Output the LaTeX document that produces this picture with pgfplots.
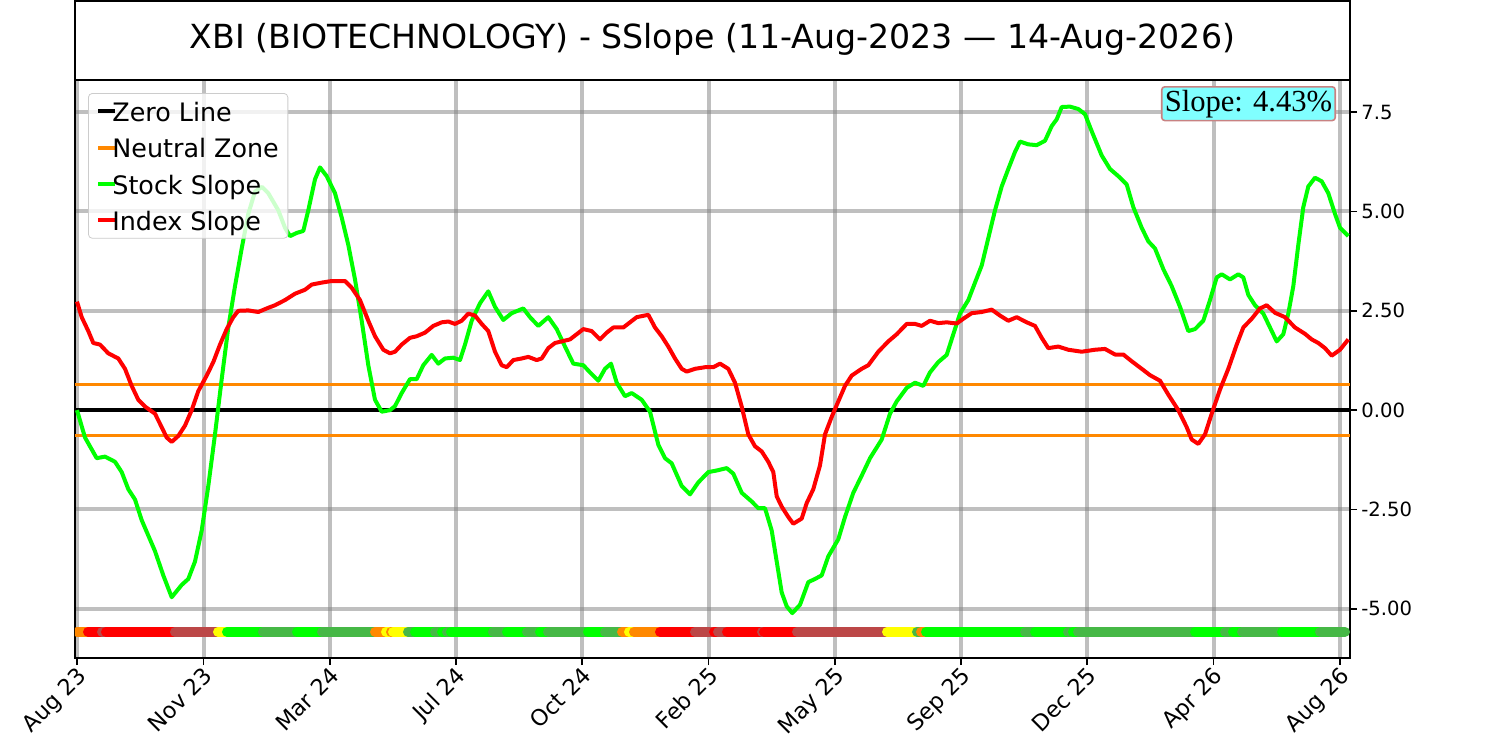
\documentclass[border=0pt]{standalone}
\usepackage{fontspec}
\setmainfont{DejaVu Sans}
\newfontfamily\timesfont{Liberation Serif}
\usepackage{pgfplots}
\pgfplotsset{compat=1.18}
\definecolor{lime}{RGB}{0,255,0}
\definecolor{mgreen}{RGB}{70,184,70}
\definecolor{brn}{RGB}{188,71,71}
\definecolor{dorange}{RGB}{255,136,0}
\definecolor{yel}{RGB}{255,255,0}
\definecolor{rd}{RGB}{255,0,0}
\definecolor{cyanbox}{RGB}{128,255,255}
\definecolor{brownbox}{RGB}{200,130,130}
\newcommand{\seg}[3]{\addplot[forget plot, draw=#1, line width=5pt, line cap=round] coordinates {(#2,-5.58) (#3,-5.58)};}
\begin{document}
\begin{tikzpicture}
\useasboundingbox (0,0) rectangle (750pt,370.5pt);
\begin{axis}[
  name=ax, at={(37.5pt,41.5pt)}, anchor=south west,
  scale only axis, width=637.5pt, height=289pt,
  xmin=75, xmax=1350, ymin=-6.24, ymax=8.31,
  xtick={77,203.5,330,456,582,708.5,835,961,1087,1213.5,1340},
  xticklabels={Aug 23,Nov 23,Mar 24,Jul 24,Oct 24,Feb 25,May 25,Sep 25,Dec 25,Apr 26,Aug 26},
  ytick={-5,-2.5,0,2.5,5,7.5},
  yticklabels={-5.00,-2.50,0.00,2.50,5.00,7.5},
  xtick pos=bottom, ytick pos=right, yticklabel pos=right,
  tick align=outside, major tick length=3.5pt,
  tick style={black, line width=0.8pt},
  grid=major, major grid style={draw=black!50, opacity=0.5, line width=2pt},
  axis line style={line width=0.8pt},
  yticklabel style={font=\fontsize{9.8}{11}\selectfont, inner sep=2pt},
  xticklabel style={font=\fontsize{11.2}{12}\selectfont, rotate=45, anchor=north east, inner sep=0.5pt, yshift=1pt},
  legend cell align=left,
  legend style={at={(0,1)}, anchor=north west, xshift=6.5pt, yshift=-6.5pt,
    draw=black!20, rounded corners=2pt, fill=white, fill opacity=0.8, text opacity=1, draw opacity=1,
    font=\fontsize{12.7}{14}\selectfont, row sep=4.15pt, inner xsep=4pt, inner ysep=2pt,
    nodes={inner xsep=0.5pt, inner ysep=2pt, text height=10pt, text depth=0pt},
    /tikz/every even column/.append style={column sep=3pt},
    /tikz/every odd column/.append style={column sep=-3pt}},
  legend image code/.code={\draw[#1, line width=2pt] (0pt,0pt) -- (8.5pt,0pt);},
]
\addplot[black, line width=1.75pt] coordinates {(75,0) (1350,0)};
\addlegendentry{Zero Line}
\addplot[dorange, line width=1.75pt] coordinates {(75,0.64) (1350,0.64)};
\addlegendentry{Neutral Zone}
\addplot[dorange, line width=1.75pt, forget plot] coordinates {(75,-0.64) (1350,-0.64)};
\addplot[lime, line width=2pt, line join=round] coordinates {
(77,0.0)(85,-0.69)(96.7,-1.21)(105,-1.17)(115,-1.30)(121.7,-1.56)(128.3,-1.99)(135,-2.25)(141.7,-2.77)(155,-3.55)(163.3,-4.16)(171.7,-4.71)(181.7,-4.40)(188.3,-4.25)(195,-3.81)(201.7,-3.03)(208.3,-1.91)(215,-0.61)(221.7,0.78)(228.3,2.08)(235,3.12)(241.7,4.07)(248.3,4.94)(255,5.50)(262,5.62)(268.3,5.46)(278.3,5.03)(285,4.59)(290,4.38)(296.7,4.46)(303.3,4.51)(308.3,5.03)(315,5.81)(320,6.11)(326.7,5.89)(335,5.46)(341.7,4.85)(348.3,4.16)(355,3.29)(361.7,2.25)(368.3,1.13)(375,0.26)(381.7,-0.04)(390,0.0)(395,0.1)(401.7,0.43)(410,0.78)(416.7,0.78)(423.3,1.13)(431.7,1.39)(438.3,1.17)(445,1.30)(453.3,1.32)(460,1.26)(465,1.65)(471.7,2.25)(480,2.69)(488.3,2.99)(495,2.60)(503.3,2.27)(511.7,2.44)(523.3,2.56)(530,2.34)(538.3,2.12)(548.3,2.34)(556.7,2.04)(565,1.60)(573.3,1.17)(583.3,1.13)(590,0.95)(598.3,0.74)(605,1.04)(611,1.17)(616.7,0.69)(625,0.35)(631.7,0.43)(641.7,0.26)(650,-0.04)(658.3,-0.87)(665,-1.21)(671.7,-1.34)(681.7,-1.91)(690,-2.12)(698.3,-1.82)(708.3,-1.56)(716.7,-1.52)(726.7,-1.46)(733.3,-1.60)(741.7,-2.08)(751.7,-2.30)(758.3,-2.47)(765,-2.47)(771.7,-3.03)(776.7,-3.81)(781.7,-4.59)(786.7,-4.94)(792.3,-5.11)(800,-4.90)(808.3,-4.33)(815,-4.25)(821.7,-4.16)(828.3,-3.68)(838.3,-3.25)(845,-2.69)(853.3,-2.08)(861.7,-1.65)(870,-1.21)(881.7,-0.74)(890,-0.09)(896.7,0.22)(906.7,0.56)(915,0.69)(923.3,0.61)(930,0.95)(938.3,1.21)(946.7,1.39)(953.3,1.91)(960,2.43)(968.3,2.77)(975,3.21)(981.7,3.64)(988.3,4.33)(995,5.03)(1001.7,5.63)(1008.3,6.07)(1015,6.50)(1020,6.76)(1028.3,6.69)(1036.7,6.67)(1045,6.78)(1051.7,7.15)(1056.7,7.32)(1061.7,7.63)(1070,7.64)(1078.3,7.58)(1085,7.45)(1091.7,7.02)(1101.7,6.41)(1110,6.07)(1118.3,5.89)(1126.7,5.68)(1133.3,5.11)(1141.7,4.59)(1148.3,4.25)(1155,4.07)(1163.3,3.55)(1171.7,3.12)(1180,2.60)(1188.3,1.99)(1195,2.04)(1203.3,2.25)(1210,2.77)(1216.7,3.34)(1221.7,3.42)(1230,3.29)(1238.3,3.42)(1243.3,3.34)(1248.3,2.90)(1255,2.64)(1263.3,2.43)(1270,2.08)(1276.7,1.73)(1283.3,1.91)(1288.3,2.43)(1293.3,3.12)(1298.3,4.16)(1303.3,5.11)(1308.3,5.63)(1315,5.85)(1321.7,5.76)(1328.3,5.46)(1335,4.94)(1340,4.59)(1348.3,4.38)};
\addlegendentry{Stock Slope}
\addplot[rd, line width=2pt, line join=round] coordinates {
(77,2.73)(81.7,2.34)(88.3,1.99)(93.3,1.69)(100,1.65)(108.3,1.43)(118.3,1.30)(125,1.04)(131.7,0.61)(138.3,0.26)(145,0.09)(155,-0.09)(161.7,-0.43)(166.7,-0.69)(171.7,-0.80)(178.3,-0.65)(185,-0.39)(191.7,0.0)(198.3,0.48)(206.7,0.87)(213.3,1.21)(220,1.65)(226.7,2.04)(233.3,2.34)(238.3,2.50)(248.3,2.51)(258.3,2.47)(266.7,2.56)(275,2.64)(285,2.77)(295,2.93)(305,3.03)(311.7,3.16)(321.7,3.21)(331.7,3.25)(345,3.25)(351.7,3.08)(360,2.77)(368.3,2.25)(375,1.86)(383.3,1.52)(390,1.43)(395,1.47)(401.7,1.65)(410,1.82)(416.7,1.86)(425,1.95)(433.3,2.12)(441.7,2.21)(448.3,2.23)(455,2.17)(461.7,2.25)(468.3,2.43)(475,2.38)(481.7,2.17)(488.3,1.99)(495,1.47)(501.7,1.13)(506.7,1.08)(513.3,1.26)(521.7,1.30)(528.3,1.34)(536.7,1.26)(541.7,1.30)(548.3,1.56)(555,1.69)(561.7,1.73)(570,1.78)(576.7,1.91)(583.3,2.04)(591.7,1.99)(600,1.78)(606.7,1.95)(613.3,2.08)(623.3,2.08)(630,2.21)(636.7,2.34)(648.3,2.40)(655,2.08)(661.7,1.86)(668.3,1.60)(675,1.30)(681.7,1.04)(686.7,0.97)(695,1.04)(705,1.08)(713.3,1.08)(720,1.17)(728.3,1.04)(735,0.69)(741.7,0.09)(748.3,-0.61)(755,-0.91)(761.7,-1.04)(768.3,-1.30)(773.3,-1.56)(776.7,-2.17)(781.7,-2.43)(788.3,-2.69)(793.3,-2.86)(801.7,-2.73)(806.7,-2.34)(813.3,-1.99)(820,-1.39)(825,-0.61)(831.7,-0.17)(838.3,0.22)(845,0.61)(851.7,0.87)(861.7,1.04)(868.3,1.13)(878.3,1.47)(888.3,1.73)(896.7,1.91)(906.7,2.17)(915,2.17)(921.7,2.12)(930,2.25)(938.3,2.19)(946.7,2.21)(956.7,2.18)(963.3,2.30)(971.7,2.44)(981.7,2.47)(991.7,2.53)(1000,2.38)(1008.3,2.25)(1016.7,2.34)(1026.7,2.21)(1035,2.12)(1041.7,1.82)(1048.3,1.56)(1058.3,1.60)(1068.3,1.52)(1081.7,1.47)(1095,1.52)(1105,1.54)(1115,1.40)(1123.3,1.40)(1131.7,1.23)(1141.7,1.04)(1150,0.88)(1160,0.74)(1168.3,0.39)(1178.3,0.0)(1186.7,-0.43)(1191.7,-0.74)(1198.3,-0.85)(1205,-0.61)(1211.7,-0.09)(1220,0.52)(1228.3,1.04)(1236.7,1.65)(1243.3,2.08)(1251.7,2.30)(1260,2.56)(1266.7,2.64)(1275,2.45)(1285,2.34)(1295,2.08)(1305,1.92)(1311.7,1.78)(1318.3,1.69)(1325,1.56)(1331.7,1.37)(1340,1.52)(1348.3,1.78)};
\addlegendentry{Index Slope}
\seg{dorange}{77}{88}
\seg{rd}{88}{102}
\seg{brn}{102}{106}
\seg{rd}{106}{175}
\seg{brn}{175}{218}
\seg{yel}{218}{227}
\seg{lime}{227}{263}
\seg{mgreen}{263}{297}
\seg{lime}{297}{322}
\seg{mgreen}{322}{375}
\seg{dorange}{375}{386}
\seg{yel}{386}{391}
\seg{dorange}{391}{393}
\seg{yel}{393}{408}
\seg{mgreen}{408}{415}
\seg{lime}{415}{435}
\seg{mgreen}{435}{442}
\seg{lime}{442}{447}
\seg{mgreen}{447}{451}
\seg{lime}{451}{493}
\seg{mgreen}{493}{507}
\seg{lime}{507}{527}
\seg{mgreen}{527}{540}
\seg{lime}{540}{548}
\seg{mgreen}{548}{588}
\seg{lime}{588}{605}
\seg{mgreen}{605}{622}
\seg{dorange}{622}{629}
\seg{yel}{629}{634}
\seg{dorange}{634}{660}
\seg{rd}{660}{695}
\seg{brn}{695}{714}
\seg{rd}{714}{718}
\seg{brn}{718}{727}
\seg{rd}{727}{762}
\seg{brn}{762}{764}
\seg{rd}{764}{797}
\seg{brn}{797}{887}
\seg{yel}{887}{917}
\seg{mgreen}{917}{921}
\seg{dorange}{921}{926}
\seg{lime}{926}{1025}
\seg{mgreen}{1025}{1035}
\seg{lime}{1035}{1068}
\seg{mgreen}{1068}{1073}
\seg{lime}{1073}{1078}
\seg{mgreen}{1078}{1195}
\seg{lime}{1195}{1225}
\seg{mgreen}{1225}{1233}
\seg{lime}{1233}{1242}
\seg{mgreen}{1242}{1282}
\seg{lime}{1282}{1320}
\seg{mgreen}{1320}{1345}
\node[anchor=north east, fill=cyanbox, draw=brownbox, line width=0.8pt, rounded corners=1.5pt, inner sep=1.5pt, font=\timesfont\fontsize{15.3}{17}\selectfont] at ([xshift=-7pt,yshift=-3pt]rel axis cs:1,1) {Slope: 4.43\%};
\end{axis}
\draw[line width=1pt] (ax.north west) rectangle ([yshift=39.5pt]ax.north east);
\node[font=\fontsize{16.6}{19}\selectfont] at ([yshift=20.5pt]ax.north) {XBI (BIOTECHNOLOGY) - SSlope (11-Aug-2023 — 14-Aug-2026)};
\end{tikzpicture}
\end{document}
